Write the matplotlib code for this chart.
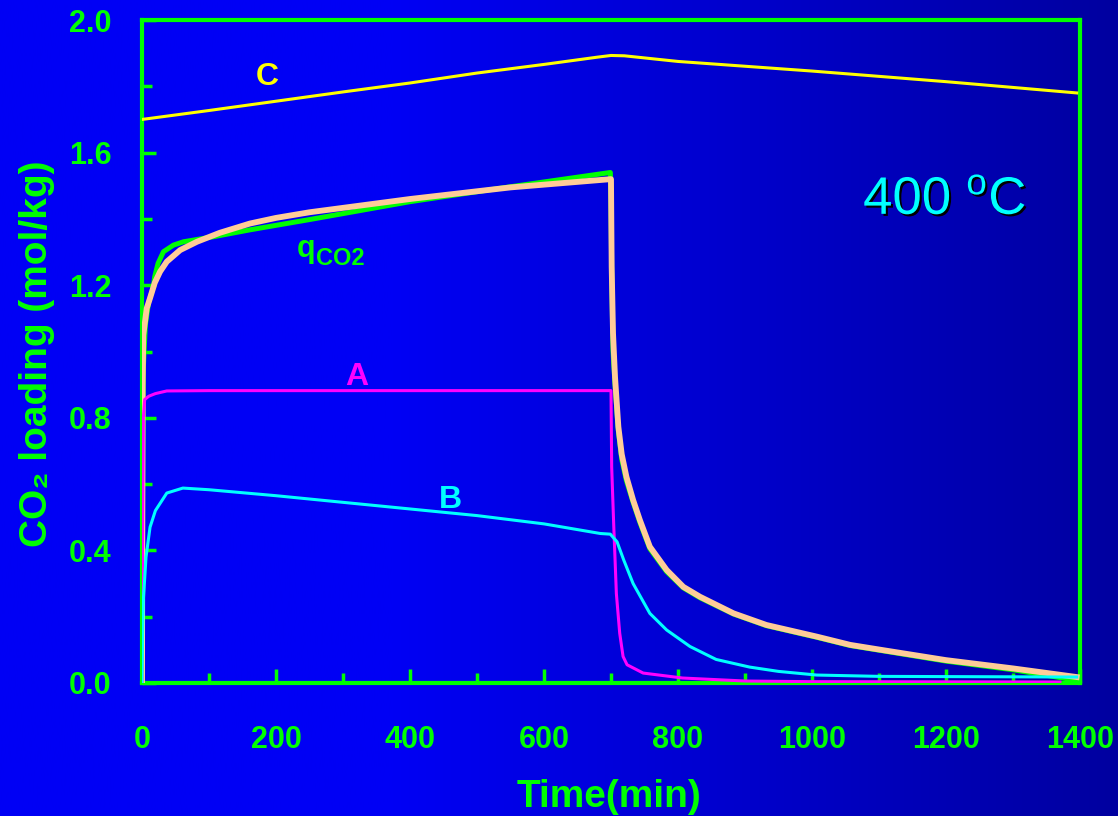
import numpy as np
import matplotlib.pyplot as plt
import matplotlib.patheffects as pe
from matplotlib.colors import LinearSegmentedColormap

plt.rcParams['font.family'] = ['Liberation Sans', 'DejaVu Sans']
plt.rcParams['mathtext.default'] = 'regular'

# q_CO2 experimental (green)
t_exp = [0, 1, 2, 5, 10, 17, 19, 24, 32, 47, 62, 106, 161, 250, 400, 550, 699,
         700, 701, 703, 706, 711, 716, 723, 733, 743, 758, 783, 808, 833,
         883, 932, 1007, 1057, 1100, 1200, 1300, 1395]
q_exp = [0, 0.7, 0.95, 1.08, 1.15, 1.195, 1.226, 1.266, 1.301, 1.321, 1.331,
         1.346, 1.367, 1.398, 1.452, 1.497, 1.54,
         1.45, 1.25, 1.0, 0.90, 0.76, 0.675, 0.61, 0.545, 0.485, 0.405, 0.336,
         0.287, 0.257, 0.208, 0.173, 0.138, 0.113, 0.099, 0.066, 0.04, 0.008]

# model (peach)
t_mod = [0, 0.5, 1, 2, 7, 12, 19, 27, 37, 57, 82, 116, 161, 200, 250, 400, 550,
         700, 701, 703, 706, 711, 716, 723, 733, 743, 758, 783, 808, 833, 883,
         932, 1007, 1057, 1100, 1200, 1300, 1395]
q_mod = [0, 0.5, 0.9, 1.05, 1.13, 1.161, 1.207, 1.241, 1.271, 1.306, 1.331,
         1.358, 1.386, 1.403, 1.42, 1.46, 1.495, 1.52,
         1.256, 1.056, 0.923, 0.773, 0.69, 0.622, 0.552, 0.492, 0.411, 0.341,
         0.29, 0.26, 0.21, 0.175, 0.14, 0.115, 0.101, 0.069, 0.044, 0.018]

# A (magenta)
t_a = [0, 1, 2, 4, 10, 20, 37, 100, 700, 701, 704, 708, 713, 718, 724,
       748, 807, 900, 1000, 1370]
q_a = [0, 0.5, 0.80, 0.855, 0.865, 0.873, 0.881, 0.882, 0.882, 0.652, 0.48,
       0.27, 0.15, 0.08, 0.055, 0.03, 0.015, 0.006, 0.004, 0.003]

# B (cyan)
t_b = [0, 1, 2, 6, 12, 20, 37, 61, 100, 200, 300, 400, 500, 600, 684, 699,
       709, 719, 733, 758, 783, 818, 857, 907, 950, 1007, 1100, 1395]
q_b = [0, 0.15, 0.25, 0.38, 0.47, 0.52, 0.573, 0.588, 0.583, 0.565, 0.545,
       0.525, 0.505, 0.48, 0.451, 0.449, 0.426, 0.371, 0.30, 0.21, 0.16, 0.11,
       0.071, 0.048, 0.035, 0.024, 0.02, 0.018]

# C (yellow)
t_c = [0, 100, 200, 300, 400, 500, 600, 680, 700, 720, 800, 1000, 1200, 1395]
q_c = [1.70, 1.727, 1.755, 1.783, 1.81, 1.84, 1.866, 1.888, 1.893, 1.892,
       1.875, 1.846, 1.814, 1.78]

xticks = [0, 200, 400, 600, 800, 1000, 1200, 1400]
yticks = [0.0, 0.4, 0.8, 1.2, 1.6, 2.0]

green = '#00FF00'

fig = plt.figure(figsize=(11.18, 8.16), dpi=100)

# gradient background
bg = fig.add_axes([0, 0, 1, 1], zorder=-1)
xs = np.linspace(0, 1, 400)
shade = np.where(xs < 0.35, 0.0, (xs - 0.35) / 0.65)
cmap = LinearSegmentedColormap.from_list('bg', [(0, 0, 245/255), (0, 0, 160/255)])
bg.imshow(shade[np.newaxis, :], aspect='auto', cmap=cmap, vmin=0, vmax=1,
          extent=[0, 1, 0, 1])
bg.axis('off')

ax = fig.add_axes([142/1118, 1 - 683/816, (1080 - 142)/1118, (683 - 20)/816])
ax.set_facecolor('none')

ax.plot(t_exp, q_exp, color=green, lw=3.6, zorder=2)
ax.plot(t_mod, q_mod, color='#FFCC99', lw=4.2, zorder=3)
ax.plot(t_c, q_c, color='#FFFF00', lw=2.2, zorder=4)
ax.plot(t_a, q_a, color='#FF00FF', lw=2.2, zorder=4)
ax.plot(t_b, q_b, color='#00FFFF', lw=2.2, zorder=4)

ax.set_xlim(0, 1400)
ax.set_ylim(0, 2.0)
ax.set_xticks(xticks)
ax.set_yticks(yticks)
ax.set_yticklabels([f'{v:.1f}' for v in yticks])
ax.set_xticks(np.arange(100, 1400, 200), minor=True)
ax.set_yticks([0.2, 0.6, 1.0, 1.4, 1.8], minor=True)
ax.tick_params(which='both', direction='in', color=green, labelcolor=green,
               labelsize=22)
ax.tick_params(which='major', length=10, width=2.5)
ax.tick_params(which='minor', length=7, width=2.5)
ax.tick_params(axis='x', pad=30)
ax.tick_params(axis='y', pad=22)
for lab in ax.get_xticklabels() + ax.get_yticklabels():
    lab.set_fontweight('bold')
for sp in ax.spines.values():
    sp.set_color(green)
    sp.set_linewidth(3)

fig.text(609/1118, 9/816, 'Time(min)', color=green, fontsize=28,
         fontweight='bold', ha='center', va='baseline')
fig.text(47/1118, 1 - 354/816, 'CO\u2082 loading (mol/kg)', color=green,
         fontsize=28, fontweight='bold', rotation=90, rotation_mode='anchor',
         ha='center', va='baseline')

ax.text(187, 1.828, 'C', color='#FFFF00', fontsize=23, fontweight='bold',
        ha='center', va='center')
ax.text(321, 0.923, 'A', color='#FF00FF', fontsize=23, fontweight='bold',
        ha='center', va='center')
ax.text(461, 0.552, 'B', color='#00FFFF', fontsize=23, fontweight='bold',
        ha='center', va='center')
ax.text(231, 1.285, 'q', color=green, fontsize=22, fontweight='bold',
        ha='left', va='baseline')
ax.annotate('CO2', xy=(231, 1.285), xytext=(13.5, -5.8),
            textcoords='offset points', color=green, fontsize=17,
            fontweight='bold', ha='left', va='baseline')
ax.text(1198, 1.457, '400 $^{o}$C', color='#00FFFF', fontsize=38,
        ha='center', va='center',
        path_effects=[pe.withSimplePatchShadow(offset=(1.5, -1.5),
                                               shadow_rgbFace='black',
                                               alpha=1.0)])

fig.savefig('out.png', dpi=100)
